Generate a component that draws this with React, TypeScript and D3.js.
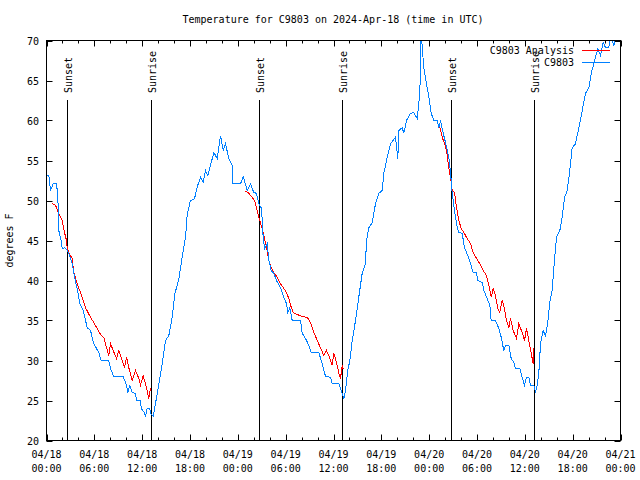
import React from "react";
import * as d3 from "d3";

// hours since 2024-04-18 00:00 UTC, temperature °F
const obsHours = [0,0.29,0.5,0.84,1.25,1.42,1.54,1.84,1.97,2.26,2.6,2.8,3.22,3.64,3.85,4.18,4.6,5.11,5.52,5.93,6.56,6.86,7.81,8.03,8.44,9.62,10.04,10.2,10.45,10.75,11.16,11.29,11.79,11.88,12.29,12.42,12.63,12.96,13.05,13.38,13.67,14.09,14.51,14.93,15.34,15.77,16.09,16.6,17.02,17.44,17.65,18.06,18.56,18.9,19.32,19.66,19.94,20.23,20.66,20.99,21.41,21.83,22.17,22.45,22.87,23.29,23.33,24.34,24.67,25.18,25.59,26.0,26.34,26.63,26.97,27.18,27.35,27.68,27.89,28.19,28.51,28.85,29.35,29.77,30.11,30.27,30.52,30.82,31.86,32.08,32.49,32.9,33.2,34.16,34.58,35.0,35.62,35.84,36.67,37.09,37.29,37.51,37.79,38.05,38.35,38.76,39.17,39.6,40.01,40.14,40.43,40.86,41.27,41.68,42.11,42.31,42.74,43.15,43.78,44.07,44.19,44.62,44.82,45.16,45.66,46.07,46.5,46.83,47.0,47.13,47.33,47.67,47.96,48.26,48.58,49.01,49.21,49.42,49.76,50.05,50.46,50.68,50.89,51.18,51.52,51.72,52.14,52.43,52.85,53.19,53.52,53.94,54.1,54.65,54.86,55.28,55.61,55.78,56.32,56.74,57.04,57.36,57.57,57.99,58.29,58.62,58.83,59.37,59.67,59.96,60.21,60.5,60.71,61.13,61.34,61.55,61.75,61.97,62.3,62.59,62.88,63.13,63.43,63.64,63.97,64.39,64.69,64.98,65.32,65.64,65.94,66.36,66.77,67.2,67.61,68.03,68.33,68.65,69.16,69.49,69.83,70.12,70.53,70.75,71.16,71.5];
const obsTemps = [53.1,53.1,51.25,52.1,52.1,50.6,46.25,45,44,44.1,43.75,43.4,42.1,39.8,39,37.1,36.25,34.1,33.75,32.1,31,30,30,29,28,28,26.9,26,26.9,26,25.9,25,25,24,23.5,23,24,24,23.4,23,24.6,27.1,29.6,32.5,33.1,35.4,38.3,40.2,42.9,45.4,48.3,50,50.2,51.7,52.9,52.3,53.75,53.1,54.75,56,55.25,58.1,56.25,57.1,55.25,54.4,52.1,52.1,53,51.25,52.1,51,50.9,49.6,49,45.4,44,44.6,42.5,41.25,40.9,40,39.1,37.9,37.1,36,36.6,35,35,33.4,32.75,31.9,31,31,29.6,28,27.9,27.1,27.1,25.9,25.25,26.25,28.75,30,32.5,35,37.9,40.9,42.1,45,46.6,47.25,49.6,50.9,51.25,53.4,55.4,57.1,57.9,55.25,58.75,59.1,58.4,60,60.9,61,60.25,63.4,71,69.1,66.6,64.6,62.9,60.9,60,60,59.1,60,58.4,57.25,55.4,53.5,50.9,48.75,46.6,46,45.9,44.1,43.1,42.1,41,41,40,39.75,38.75,37.75,36.9,35,35,34,32.9,31.25,31.9,31.9,30.25,29.75,29,29,27.9,26.9,27.9,27.9,26.9,26.9,26,26.9,28.4,32.1,33.75,33.1,34.75,37.25,38.75,41.6,45.4,46.25,47.9,50.4,51.25,53.75,56.6,57.1,59.1,61.25,63.4,64.1,65.9,67.1,69,68.1,69.75,69.1,69.1,70.5,69.4,70.5];

const anaHours1 = [0.72,1.13,1.54,1.97,2.26,2.51,2.6,2.8,3.22,3.42,3.85,4.48,4.89,5.52,5.93,6.36,6.86,7.19,7.53,7.81,8.03,8.37,8.78,9.07,9.5,9.78,10.04,10.32,10.75,11.16,11.58,11.79,12.13,12.54,12.83,13.05];
const anaTemps1 = [49.6,49.4,48.4,47.5,46,45,44.1,43.5,42.75,41,39.6,37.9,36.6,35.4,34.75,34,33.1,32.9,31.6,30.6,32.1,31.25,30.25,31.25,30,29.1,30.4,29.1,27.5,28.75,27.75,26.9,28.1,26.6,25.25,26.6];
const anaHours2 = [24.84,25.38,25.8,26.09,26.34,26.63,26.93,27.18,27.35,27.6,27.89,28.19,28.51,28.94,29.35,29.77,30.11,30.39,30.61,30.95,31.45,32.08,32.7,33.12,33.54,33.96,34.37,34.78,35.12,35.41,35.84,36.04,36.38,36.67,36.88,37.09,37.22];
const anaTemps2 = [51.25,50.9,50.4,50,49.1,47.9,46.9,46,45.25,44.1,42.5,41.6,41,40.4,39.6,39,38.5,37.75,36.9,36,35.75,35.5,35.4,34.75,33.5,32.5,31.6,30.6,31.25,30.6,29.4,30.9,29.75,28.4,27.75,29.4,28.9];
const anaHours3 = [49.01,49.34,49.64,49.93,50.18,50.46,50.68,50.89,51.18,51.43,51.72,52.02,52.35,52.77,53.19,53.52,53.94,54.35,54.78,55.19,55.48,55.78,56.03,56.32,56.61,56.86,57.16,57.36,57.7,57.99,58.2,58.54,58.95,59.24,59.67,59.96,60.21,60.5,60.8,61.05,61.13];
const anaTemps3 = [59.75,59.1,57.9,57.1,56.25,54.1,52.9,51.25,51,49.1,47.5,46.5,46,45.25,44.6,43.5,42.75,42.1,41.25,40.6,39.4,37.9,39,38.1,36.5,36,37.5,36.9,35,34.1,35.25,33.75,32.75,34.6,33.5,32.5,34,32.5,30.9,29.6,31.6];

const sunHours = [2.63, 13.17, 26.7, 37.1, 50.7, 61.1];
const sunLabels = ["Sunset", "Sunrise", "Sunset", "Sunrise", "Sunset", "Sunrise"];

const xTickHours = [0, 6, 12, 18, 24, 30, 36, 42, 48, 54, 60, 66, 72];
const xTickDates = ["04/18","04/18","04/18","04/18","04/19","04/19","04/19","04/19","04/20","04/20","04/20","04/20","04/21"];
const xTickTimes = ["00:00","06:00","12:00","18:00","00:00","06:00","12:00","18:00","00:00","06:00","12:00","18:00","00:00"];
const yTicks = [20, 25, 30, 35, 40, 45, 50, 55, 60, 65, 70];

const TITLE = "Temperature for C9803 on 2024-Apr-18 (time in UTC)";
const Y_LABEL = "degrees F";
const LEGEND = ["C9803 Analysis", "C9803"];

const RED = "#ff0000";
const BLUE = "#0080ff";
const FONT = "'DejaVu Sans Mono', 'Liberation Mono', monospace";

export default function App() {
  const W = 640, H = 480;
  const L = 46.5, R = 620.5, T = 40.5, B = 440.5;
  const x = d3.scaleLinear().domain([0, 72]).range([L, R]);
  const y = d3.scaleLinear().domain([20, 70]).range([B, T]);

  const mk = (hs: number[], vs: number[]) => hs.map((h, i) => [h, vs[i]] as [number, number]);
  const line = d3.line<[number, number]>().x(d => x(d[0])).y(d => y(d[1]));
  const obs = mk(obsHours, obsTemps);
  const ana = [mk(anaHours1, anaTemps1), mk(anaHours2, anaTemps2), mk(anaHours3, anaTemps3)];
  const minor = d3.range(0, 73, 2).filter(h => h % 6 !== 0);

  return (
    <svg width={W} height={H} style={{ position: "absolute", left: 0, top: 0, background: "#fff" }}
      fontFamily={FONT} fontSize={10}>
      <defs>
        <clipPath id="plotclip">
          <rect x={L} y={T} width={R - L} height={B - T} />
        </clipPath>
      </defs>
      <rect x={0} y={0} width={W} height={H} fill="#fff" />
      <text x={333} y={23} textAnchor="middle" fill="#000">{TITLE}</text>
      <text transform={`translate(13,${(T + B) / 2}) rotate(-90)`} textAnchor="middle" fill="#000">{Y_LABEL}</text>

      {/* ticks */}
      {yTicks.map(v => (
        <g key={"y" + v}>
          <line x1={L} x2={L + 6} y1={Math.round(y(v)) + 0.5} y2={Math.round(y(v)) + 0.5} stroke="#000" />
          <line x1={R - 6} x2={R} y1={Math.round(y(v)) + 0.5} y2={Math.round(y(v)) + 0.5} stroke="#000" />
          <text x={39} y={y(v) + 4} textAnchor="end" fill="#000">{v}</text>
        </g>
      ))}
      {xTickHours.map((h, i) => {
        const px = Math.round(x(h)) + 0.5;
        return (
          <g key={"x" + h}>
            <line x1={px} x2={px} y1={B} y2={B - 6} stroke="#000" />
            <line x1={px} x2={px} y1={T} y2={T + 6} stroke="#000" />
            <text x={x(h)} y={458} textAnchor="middle" fill="#000">{xTickDates[i]}</text>
            <text x={x(h)} y={472} textAnchor="middle" fill="#000">{xTickTimes[i]}</text>
          </g>
        );
      })}
      {minor.map(h => {
        const px = Math.round(x(h)) + 0.5;
        return (
          <g key={"m" + h}>
            <line x1={px} x2={px} y1={B} y2={B - 3} stroke="#000" />
            <line x1={px} x2={px} y1={T} y2={T + 3} stroke="#000" />
          </g>
        );
      })}

      {/* sunrise / sunset */}
      {sunHours.map((h, i) => {
        const px = Math.round(x(h)) + 0.5;
        return (
          <g key={"s" + i}>
            <line x1={px} x2={px} y1={100} y2={B} stroke="#000" />
            <text transform={`translate(${px + 4},93) rotate(-90)`} textAnchor="start" fill="#000">{sunLabels[i]}</text>
          </g>
        );
      })}

      <g clipPath="url(#plotclip)">
        {ana.map((seg, i) => (
          <path key={"a" + i} d={line(seg) || ""} fill="none" stroke={RED} strokeWidth={1} shapeRendering="crispEdges" />
        ))}
        <path d={line(obs) || ""} fill="none" stroke={BLUE} strokeWidth={1} shapeRendering="crispEdges" />
      </g>

      {/* legend */}
      <text x={574} y={54} textAnchor="end" fill="#000">{LEGEND[0]}</text>
      <line x1={582} x2={610} y1={50.5} y2={50.5} stroke={RED} />
      <text x={574} y={66} textAnchor="end" fill="#000">{LEGEND[1]}</text>
      <line x1={582} x2={610} y1={62.5} y2={62.5} stroke={BLUE} />

      <rect x={L} y={T} width={R - L} height={B - T} fill="none" stroke="#000" />
    </svg>
  );
}
